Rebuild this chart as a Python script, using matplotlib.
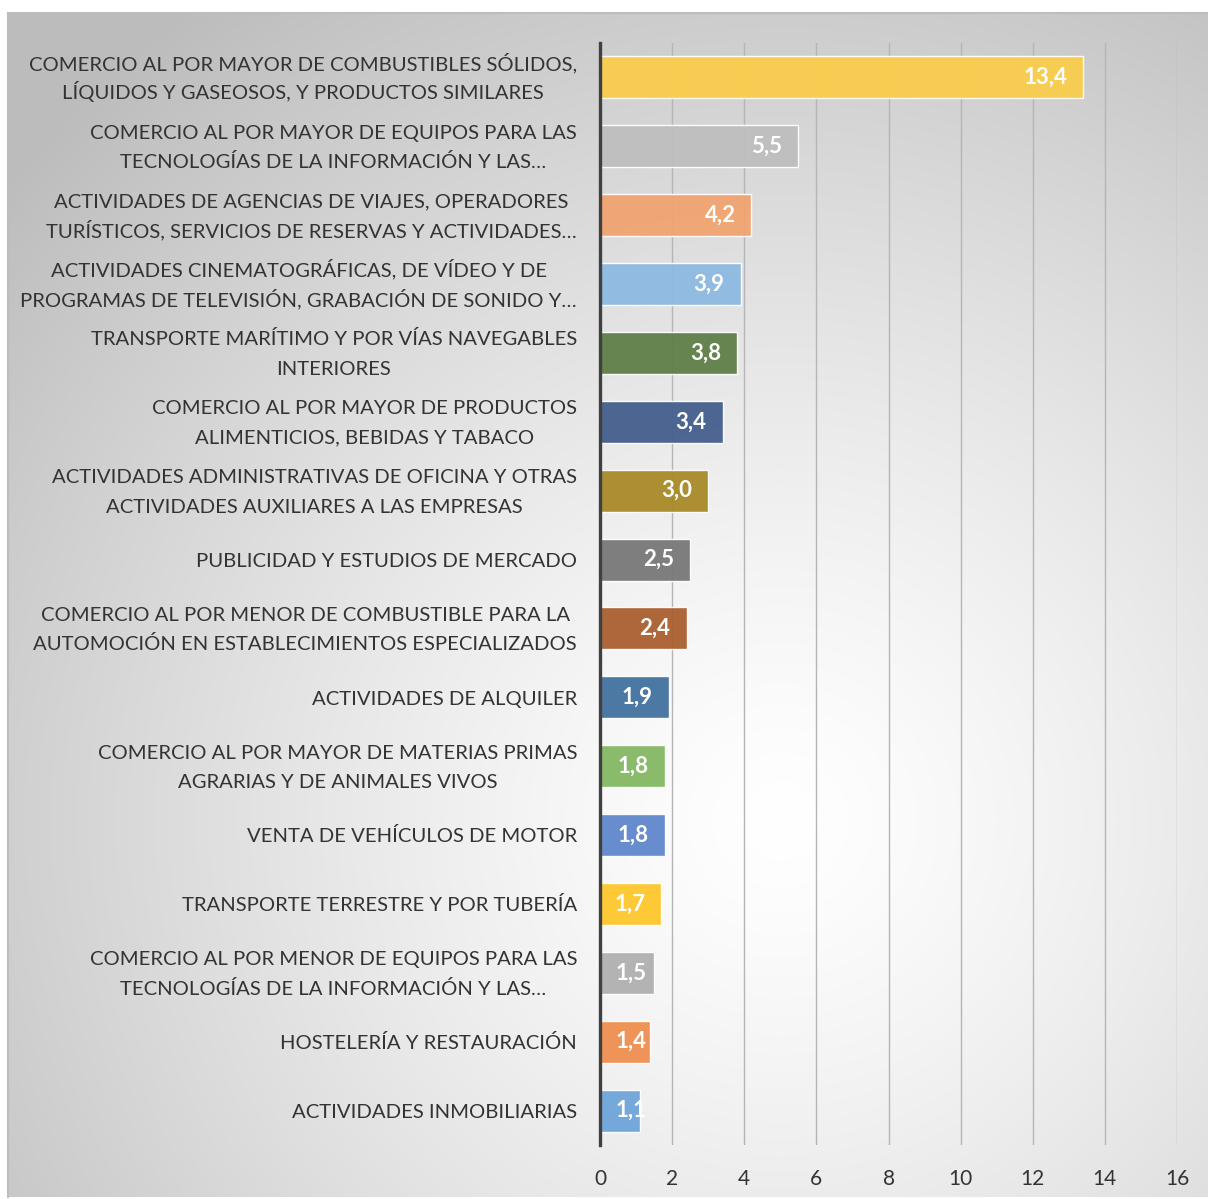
import numpy as np
import matplotlib
matplotlib.use("Agg")
import matplotlib.pyplot as plt
import matplotlib.transforms as mtransforms

plt.rcParams['font.family'] = ['Lato', 'DejaVu Sans']

categories = [
    "COMERCIO AL POR MAYOR DE COMBUSTIBLES SÓLIDOS,\nLÍQUIDOS Y GASEOSOS, Y PRODUCTOS SIMILARES",
    "COMERCIO AL POR MAYOR DE EQUIPOS PARA LAS\nTECNOLOGÍAS DE LA INFORMACIÓN Y LAS…",
    "ACTIVIDADES DE AGENCIAS DE VIAJES, OPERADORES\nTURÍSTICOS, SERVICIOS DE RESERVAS Y ACTIVIDADES…",
    "ACTIVIDADES CINEMATOGRÁFICAS, DE VÍDEO Y DE\nPROGRAMAS DE TELEVISIÓN, GRABACIÓN DE SONIDO Y…",
    "TRANSPORTE MARÍTIMO Y POR VÍAS NAVEGABLES\nINTERIORES",
    "COMERCIO AL POR MAYOR DE PRODUCTOS\nALIMENTICIOS, BEBIDAS Y TABACO",
    "ACTIVIDADES ADMINISTRATIVAS DE OFICINA Y OTRAS\nACTIVIDADES AUXILIARES A LAS EMPRESAS",
    "PUBLICIDAD Y ESTUDIOS DE MERCADO",
    "COMERCIO AL POR MENOR DE COMBUSTIBLE PARA LA\nAUTOMOCIÓN EN ESTABLECIMIENTOS ESPECIALIZADOS",
    "ACTIVIDADES DE ALQUILER",
    "COMERCIO AL POR MAYOR DE MATERIAS PRIMAS\nAGRARIAS Y DE ANIMALES VIVOS",
    "VENTA DE VEHÍCULOS DE MOTOR",
    "TRANSPORTE TERRESTRE Y POR TUBERÍA",
    "COMERCIO AL POR MENOR DE EQUIPOS PARA LAS\nTECNOLOGÍAS DE LA INFORMACIÓN Y LAS…",
    "HOSTELERÍA Y RESTAURACIÓN",
    "ACTIVIDADES INMOBILIARIAS",
]
values = [13.4, 5.5, 4.2, 3.9, 3.8, 3.4, 3.0, 2.5, 2.4, 1.9, 1.8, 1.8, 1.7, 1.5, 1.4, 1.1]
colors = ["#F9CD4B", "#BEBEBE", "#F1A471", "#8EB9E2", "#5E7F48", "#455F8C",
          "#A98A28", "#787878", "#A95F30", "#43729F", "#84B863", "#6087CC",
          "#FEC72B", "#B0B0B0", "#EE8F50", "#6FA5D9"]
xticks = [0, 2, 4, 6, 8, 10, 12, 14, 16]

W, H = 1208, 1199
fig = plt.figure(figsize=(W / 100, H / 100), dpi=100)
fig.patch.set_facecolor("white")

# radial gradient background of the chart area
x0, y0, x1, y1 = 8, 13, 1208, 1197
bg = fig.add_axes([x0 / W, 1 - y1 / H, (x1 - x0) / W, (y1 - y0) / H])
gx, gy = np.meshgrid(np.arange(x0, x1), np.arange(y0, y1))
d = np.sqrt((gx - 780) ** 2 + (gy - 820) ** 2) / 1000.0
g = 1.0 - 0.26 * np.clip(d, 0, 1) ** 1.3
bg.imshow(np.dstack([g, g, g]), aspect="auto", extent=[0, 1, 0, 1], interpolation="bilinear")
bg.set_xticks([])
bg.set_yticks([])
for s in bg.spines.values():
    s.set_color("#BDBDBD")
    s.set_linewidth(1.5)
bg.spines["right"].set_visible(False)
bg.spines["bottom"].set_visible(False)

ax = fig.add_axes([600 / W, 1 - 1145 / H, 577 / W, (1145 - 43) / H])
ax.patch.set_alpha(0)
y = np.arange(len(values))
ax.barh(y, values, height=0.61, color=colors, alpha=0.95,
        edgecolor=(1, 1, 1, 0.25), linewidth=1.0, zorder=3)
ax.set_ylim(len(values) - 0.5, -0.5)
ax.set_xlim(0, 16)
ax.set_xticks(xticks)
ax.set_xticklabels([str(t) for t in xticks])
ax.set_yticks(y)
ax.set_yticklabels([])
ax.tick_params(axis="y", length=0)
ax.tick_params(axis="x", length=0, pad=17, labelsize=15, labelcolor="#333333")
ax.grid(axis="x", color="#B5B5B5", linewidth=1.0, zorder=0)
ax.set_axisbelow(True)
for s in ["top", "right", "bottom"]:
    ax.spines[s].set_visible(False)
ax.spines["left"].set_color("#404040")
ax.spines["left"].set_linewidth(2.4)
ax.spines["left"].set_zorder(5)

# category labels: lines centred on each other, block right-aligned left of the axis
renderer = fig.canvas.get_renderer()
ylab = mtransforms.blended_transform_factory(ax.transAxes, ax.transData)
line_gap = 29.5   # px between lines
half_cap = 7.3    # px from line centre to baseline
for yi, cat in zip(y, categories):
    lines = cat.split("\n")
    texts = []
    for k, ln in enumerate(lines):
        dy = (k - (len(lines) - 1) / 2) * line_gap + half_cap
        t = ax.text(0, yi, ln, ha="center", va="baseline", fontsize=14.6,
                    color="#333333", clip_on=False)
        texts.append((t, dy))
    bw = max(t.get_window_extent(renderer).width for t, _ in texts)
    for t, dy in texts:
        t.set_transform(ylab + mtransforms.ScaledTranslation(-(23 + bw / 2) / 100, -dy / 100,
                                                             fig.dpi_scale_trans))

for yi, v in zip(y, values):
    lab = f"{v:.1f}".replace(".", ",")
    if v >= 1.7:
        tr = ax.transData + mtransforms.ScaledTranslation(-16 / 100, 0, fig.dpi_scale_trans)
        ax.text(v, yi, lab, transform=tr, ha="right", va="center", color="white",
                fontsize=16, fontweight="bold", zorder=6)
    else:
        tr = ax.transData + mtransforms.ScaledTranslation(16 / 100, 0, fig.dpi_scale_trans)
        ax.text(0, yi, lab, transform=tr, ha="left", va="center", color="white",
                fontsize=16, fontweight="bold", zorder=6)

fig.savefig("out.png", dpi=100)
